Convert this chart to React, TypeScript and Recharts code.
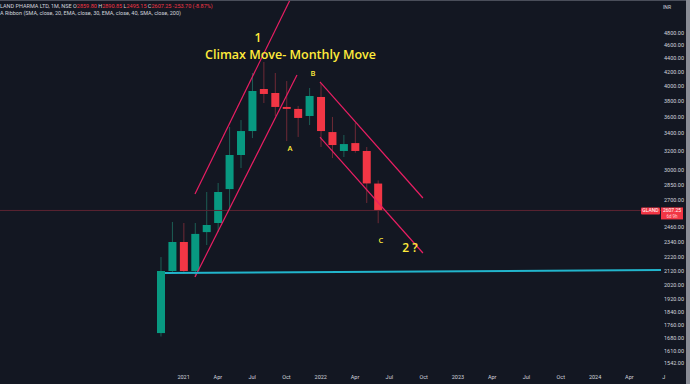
import React from 'react';
import { ComposedChart, Bar, XAxis, YAxis, ReferenceLine, ReferenceDot } from 'recharts';

// monthly candles, index 0 = Jan 2021
const monthIdx = [-2, -1, 0, 1, 2, 3, 4, 5, 6, 7, 8, 9, 10, 11, 12, 13, 14, 15, 16, 17];
const opens = [1710, 2117, 2339, 2117, 2420, 2497, 2806, 3155, 3426, 3959, 3905, 3722, 3697, 3608, 3852, 3414, 3199, 3287, 3199, 2859.8];
const highs = [2221, 2506, 2497, 2497, 2778, 2865, 3474, 3558, 4183, 4344, 4183, 4069, 3735, 3973, 4042, 3596, 3380, 3522, 3243, 2890.85];
const lows = [1690, 2110, 2100, 2074, 2315, 2420, 2611, 3017, 3344, 3773, 3608, 3310, 3357, 3497, 3243, 3122, 3133, 3180, 2675, 2495.15];
const closes = [2117, 2339, 2117, 2405, 2480, 2778, 3155, 3426, 3932, 3892, 3722, 3697, 3584, 3865, 3426, 3265, 3276, 3199, 2861, 2607.25];

const xTicks = [0, 3, 6, 9, 12, 15, 18, 21, 24, 27, 30, 33, 36, 39, 42];
const xTickLabels = ['2021', 'Apr', 'Jul', 'Oct', '2022', 'Apr', 'Jul', 'Oct', '2023', 'Apr', 'Jul', 'Oct', '2024', 'Apr', 'J'];
const yTicks = [4800, 4600, 4400, 4200, 4000, 3800, 3600, 3400, 3200, 3000, 2850, 2700, 2460, 2340, 2220, 2120, 2020, 1920, 1840, 1760, 1680, 1610, 1542];

// drawn trend lines: [idx1, price1, idx2, price2]
const channelUpOuter = [1.0, 2759, 9.31, 5377];
const channelUpInner = [1.0, 2074, 9.92, 4154];
const channelDownUpper = [11.93, 4056, 20.94, 2721];
const channelDownLower = [11.93, 3356, 20.94, 2252];
const supportLine = [-1.63, 2103, 41.77, 2124];

const annoText = ['1', 'Climax Move- Monthly Move', 'B', 'A', 'C', '2 ?'];
const annoIdx = [6.51, 9.35, 11.32, 9.31, 17.26, 19.81];
const annoPrice = [4720, 4460, 4183, 3232, 2355, 2291];
const annoSize = [12, 12.5, 7.5, 7.5, 7.5, 12];

const lastClose = 2607.25;

const GREEN = '#089981';
const RED = '#f23645';
const PINK = '#e91e63';
const BG = '#131722';
const AXIS_TEXT = '#d1d4dc';

const data = monthIdx.map((idx, i) => ({
  idx,
  open: opens[i],
  high: highs[i],
  low: lows[i],
  close: closes[i],
  range: [lows[i], highs[i]],
}));

const Candle = (props: any) => {
  const { x, y, width, height, payload } = props;
  if (x == null || y == null) return null;
  const top = Math.min(y, y + height);
  const bottom = Math.max(y, y + height);
  const lh = Math.log(payload.high);
  const ll = Math.log(payload.low);
  const toPx = (p: number) => top + ((bottom - top) * (lh - Math.log(p))) / (lh - ll);
  const up = payload.close >= payload.open;
  const cx = x + width / 2;
  const bTop = toPx(Math.max(payload.open, payload.close));
  const bBot = toPx(Math.min(payload.open, payload.close));
  const bw = 8;
  return (
    <g>
      <line x1={cx} x2={cx} y1={top} y2={bottom} stroke={up ? '#1d5e55' : '#6e2a36'} strokeWidth={1} />
      <rect x={cx - bw / 2} y={bTop} width={bw} height={Math.max(1.5, bBot - bTop)} fill={up ? GREEN : RED} />
    </g>
  );
};

const YTick = (props: any) => {
  const { x, y, payload } = props;
  return (
    <text x={x + 20} y={y + 2} textAnchor="end" fontSize={5.5} fill={AXIS_TEXT} fontFamily="Roboto, sans-serif">
      {payload.value.toFixed(2)}
    </text>
  );
};

const XTick = (props: any) => {
  const { x, y, payload } = props;
  const i = xTicks.indexOf(payload.value);
  return (
    <text x={x} y={y + 9} textAnchor="middle" fontSize={5.5} fill={AXIS_TEXT} fontFamily="Roboto, sans-serif">
      {xTickLabels[i]}
    </text>
  );
};

const PriceTag = (props: any) => {
  const { viewBox } = props;
  if (!viewBox) return null;
  const right = viewBox.x + viewBox.width;
  const cy = viewBox.y;
  return (
    <g fontFamily="Roboto, sans-serif">
      <rect x={right - 23} y={cy - 3} width={19} height={7} fill={RED} rx={1} />
      <text x={right - 13.5} y={cy + 2} textAnchor="middle" fontSize={5} fill="#fff">GLAND</text>
      <rect x={right - 3} y={cy - 3} width={22} height={12} fill={RED} />
      <text x={right + 8} y={cy + 2} textAnchor="middle" fontSize={5} fill="#fff">{lastClose.toFixed(2)}</text>
      <text x={right + 8} y={cy + 7.5} textAnchor="middle" fontSize={4.5} fill="#ffd1d6">6d 9h</text>
    </g>
  );
};

const seg = (l: number[]) => [
  { x: l[0], y: l[1] },
  { x: l[2], y: l[3] },
];

export default function App() {
  return (
    <div style={{ position: 'fixed', left: 0, top: 0, width: 690, height: 384, background: BG, overflow: 'hidden' }}>
      <ComposedChart width={690} height={384} data={data} margin={{ top: 0, right: 4, left: 0, bottom: 0 }}>
        <XAxis
          type="number"
          dataKey="idx"
          domain={[-16.06, 42.03]}
          ticks={xTicks}
          tick={<XTick />}
          tickLine={false}
          axisLine={false}
          tickSize={0}
          tickMargin={0}
          height={14}
          allowDataOverflow
        />
        <YAxis
          orientation="right"
          scale="log"
          domain={[1506, 5377]}
          ticks={yTicks}
          tick={<YTick />}
          tickLine={false}
          axisLine={false}
          tickSize={0}
          tickMargin={0}
          width={22}
          allowDataOverflow
          interval={0}
        />
        <ReferenceLine y={lastClose} stroke="#5c2431" strokeWidth={1} label={<PriceTag />} />
        <Bar dataKey="range" barSize={8} shape={<Candle />} isAnimationActive={false} />
        <ReferenceLine segment={seg(channelUpOuter)} stroke={PINK} strokeWidth={1.2} ifOverflow="hidden" />
        <ReferenceLine segment={seg(channelUpInner)} stroke={PINK} strokeWidth={1.2} ifOverflow="hidden" />
        <ReferenceLine segment={seg(channelDownUpper)} stroke={PINK} strokeWidth={1.2} ifOverflow="hidden" />
        <ReferenceLine segment={seg(channelDownLower)} stroke={PINK} strokeWidth={1.2} ifOverflow="hidden" />
        <ReferenceLine segment={seg(supportLine)} stroke="#22b5cc" strokeWidth={2} ifOverflow="hidden" />
        {annoText.map((t, i) => (
          <ReferenceDot
            key={t}
            x={annoIdx[i]}
            y={annoPrice[i]}
            r={0}
            fill="none"
            stroke="none"
            label={{
              value: t,
              position: 'center',
              fill: '#ffeb3b',
              fontSize: annoSize[i],
              fontWeight: 600,
              fontFamily: '"Open Sans", sans-serif',
            }}
          />
        ))}
      </ComposedChart>
      <div style={{ position: 'absolute', left: 0, top: 3, fontFamily: 'Roboto, sans-serif', fontSize: 5.5, lineHeight: '7px', color: AXIS_TEXT, whiteSpace: 'nowrap' }}>
        <div>
          LAND PHARMA LTD, 1M, NSE <span>O</span><span style={{ color: RED }}>2859.80</span> <span>H</span>
          <span style={{ color: RED }}>2890.85</span> <span>L</span><span style={{ color: RED }}>2495.15</span> <span>C</span>
          <span style={{ color: RED }}>2607.25</span> <span style={{ color: RED }}>-253.70 (-8.87%)</span>
        </div>
        <div>A Ribbon (SMA, close, 20, EMA, close, 30, EMA, close, 40, SMA, close, 200)</div>
      </div>
      <div style={{ position: 'absolute', left: 663, top: 4, fontFamily: 'Roboto, sans-serif', fontSize: 5, color: AXIS_TEXT }}>INR</div>
      <div style={{ position: 'absolute', left: 0, top: 0, width: 690, height: 1, background: '#4a4e5a' }} />
      <div style={{ position: 'absolute', left: 686, top: 0, width: 4, height: 384, background: '#8a8d96' }} />
    </div>
  );
}
